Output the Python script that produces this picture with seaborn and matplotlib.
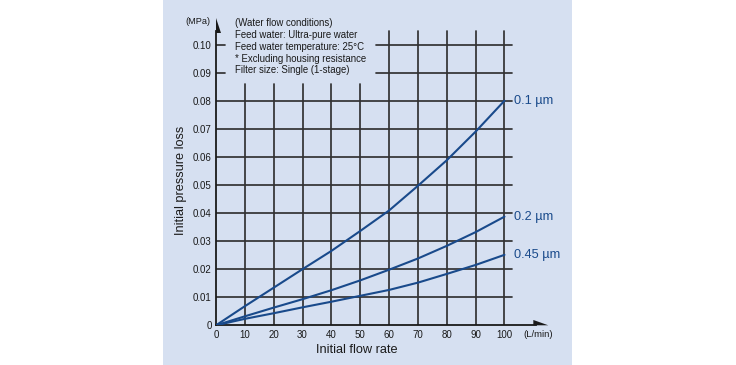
import numpy as np
import pandas as pd
import matplotlib
matplotlib.use('Agg')
import matplotlib.pyplot as plt
import matplotlib.transforms as mtransforms
import seaborn as sns
from matplotlib.patches import Rectangle

# Flow rate (L/min) and initial pressure loss (MPa)
flow = [0, 10, 20, 30, 40, 50, 60, 70, 80, 90, 100]
loss_01 = [0, 0.0068, 0.0134, 0.0200, 0.0265, 0.0336, 0.0409, 0.0497, 0.0588, 0.0690, 0.0800]
loss_02 = [0, 0.0032, 0.0063, 0.0093, 0.0125, 0.0160, 0.0198, 0.0238, 0.0283, 0.0332, 0.0387]
loss_045 = [0, 0.0023, 0.0043, 0.0064, 0.0084, 0.0105, 0.0126, 0.0152, 0.0183, 0.0215, 0.0251]
sizes = ["0.1 µm", "0.2 µm", "0.45 µm"]

x_ticks = list(range(0, 101, 10))
y_ticks = [0, 0.01, 0.02, 0.03, 0.04, 0.05, 0.06, 0.07, 0.08, 0.09, 0.10]
y_ticklabels = ["0"] + [f"{v:.2f}" for v in y_ticks[1:]]

conditions = ["(Water flow conditions)",
              "Feed water: Ultra-pure water",
              "Feed water temperature: 25°C",
              "* Excluding housing resistance",
              "Filter size: Single (1-stage)"]

BG = "#d6e0f1"
LINE = "#194a8b"
GRID = "#333333"
INK = "#1a1a1a"

df = pd.DataFrame({
    "flow": flow * 3,
    "loss": loss_01 + loss_02 + loss_045,
    "size": [s for s in sizes for _ in flow],
})

sns.set_style("white")
plt.rcParams['font.family'] = ['Liberation Sans', 'DejaVu Sans']

fig = plt.figure(figsize=(7.36, 3.65), dpi=100)
fig.patch.set_facecolor("white")
panel = Rectangle((163 / 736, 0), (572 - 163) / 736, 1,
                  transform=fig.transFigure, facecolor=BG,
                  edgecolor="none", zorder=-5)
fig.add_artist(panel)

ax = fig.add_axes([216 / 736, 39.7 / 365, 340.4 / 736, 314.4 / 365])
ax.set_zorder(2)
ax.patch.set_visible(False)
ax.set_xlim(0, 118)
ax.set_ylim(0, 0.112)

# grid, drawn by hand because of the gap behind the notes
for v in y_ticks[1:9]:
    ax.plot([0, 102.5], [v, v], color=GRID, lw=1.25, zorder=1)
for v in y_ticks[9:]:
    ax.plot([0, 3], [v, v], color=GRID, lw=1.25, zorder=1)
    ax.plot([55.5, 102.5], [v, v], color=GRID, lw=1.25, zorder=1)
for v in x_ticks[1:6]:
    ax.plot([v, v], [0, 0.086], color=GRID, lw=1.25, zorder=1)
for v in x_ticks[6:]:
    ax.plot([v, v], [0, 0.105], color=GRID, lw=1.25, zorder=1)

sns.lineplot(data=df, x="flow", y="loss", hue="size",
             palette=[LINE] * 3, linewidth=1.5, legend=False, ax=ax, zorder=3)

# curve labels at the line ends
for s, vals in zip(sizes, [loss_01, loss_02, loss_045]):
    ax.text(103.2, vals[-1], s, color=LINE, fontsize=9.2,
            ha="left", va="center")

# axes with half arrow heads
for side in ["top", "right"]:
    ax.spines[side].set_visible(False)
ax.spines["bottom"].set_bounds(0, 111)
ax.spines["left"].set_bounds(0, 0.105)
for side in ["bottom", "left"]:
    ax.spines[side].set_color(INK)
    ax.spines[side].set_linewidth(1.3)
ax.fill([110, 115.2, 110], [0, 0, 0.0019], color=INK, clip_on=False, lw=0)
ax.fill([0, 0, 1.9], [0.1095, 0.1040, 0.1040], color=INK, clip_on=False, lw=0)

ax.set_xticks(x_ticks)
ax.set_yticks(y_ticks)
ax.set_yticklabels(y_ticklabels)
ax.tick_params(axis="both", length=0, labelsize=7, colors=INK)
ax.tick_params(axis="x", pad=3.2)
ax.tick_params(axis="y", pad=3)

ax.set_xlabel("Initial flow rate", fontsize=9.2, color=INK)
ax.set_ylabel("Initial pressure loss", fontsize=9.2, color=INK)
ax.xaxis.set_label_coords(48.8 / 118, -0.058)
ax.yaxis.set_label_coords(-0.086, 0.0518 / 0.112)

ax.text(-6.2, 0.1082, "(MPa)", fontsize=6.6, ha="center", va="center", color=INK)
ax.text(111.6, 0, "(L/min)", fontsize=6.8, ha="center", va="top", color=INK,
        transform=ax.transData + mtransforms.ScaledTranslation(0, -3.2 / 72, fig.dpi_scale_trans))

for i, line in enumerate(conditions):
    ax.text(6.6, 0.1076 - i * 0.0042, line, fontsize=6.9, ha="left", va="center",
            color=INK)

fig.savefig("out.png", dpi=100)
